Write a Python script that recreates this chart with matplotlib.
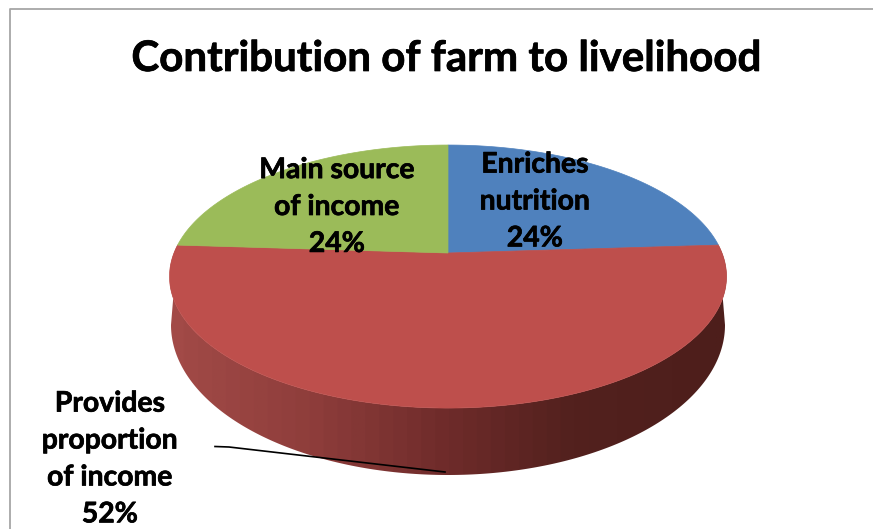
import numpy as np
import matplotlib.pyplot as plt
import matplotlib.patheffects as pe
from matplotlib.colors import LinearSegmentedColormap
from matplotlib.patches import Polygon

title = "Contribution of farm to livelihood"
categories = ["Enriches\nnutrition", "Provides\nproportion\nof income", "Main source\nof income"]
values = [24, 52, 24]
colors = ["#4F81BD", "#BE4F4C", "#9BBB59"]
label_x = [535, 110, 337]
label_y = [201.5, 459, 207]

# disk projection, pixel units
apex_x, apex_y = 448, 253
scale_x, scale_y = 274, 127.3
tilt = 0.179
# lower rim of the side wall
rim_x, rim_y = 448, 325
rim_rx, rim_ry = 277, 150


def disk(angle):
    # angle in degrees, clockwise from 12 o'clock
    a = np.radians(angle)
    w = 1 + tilt * np.cos(a)
    return apex_x + scale_x * np.sin(a) / w, apex_y - scale_y * np.cos(a) / w


def wedge_points(start, end):
    x, y = disk(np.linspace(start, end, 200))
    return np.column_stack([np.r_[apex_x, x], np.r_[apex_y, y]])


fig = plt.figure(figsize=(8.73, 5.29), dpi=100)
ax = fig.add_axes([0, 0, 1, 1])

# chart frame, open on the right and bottom
ax.plot([10, 10, 873], [529, 8.5, 8.5], color="#A6A6A6", lw=1.3, zorder=1)

edges = np.r_[0, np.cumsum(values)] * 360 / np.sum(values)

# side wall of the large slice
t = np.linspace(0, np.pi, 200)
arc_x, arc_y = disk(np.linspace(edges[1], edges[2], 200))
low_x = rim_x + rim_rx * np.cos(t)
low_y = rim_y + rim_ry * np.sin(t)
wall = Polygon(np.column_stack([np.r_[arc_x, low_x[::-1]], np.r_[arc_y, low_y[::-1]]]),
               closed=True, fc="none", ec="none", transform=ax.transData)
ax.add_patch(wall)
shade = LinearSegmentedColormap.from_list("wall", [(0, "#A24A47"), (0.25, "#8E3D3B"), (0.5, "#6E2B2A"),
                                                   (0.72, "#53211E"), (1, "#4D1E1B")], N=40)
img = ax.imshow(np.linspace(0, 1, 400).reshape(1, -1), cmap=shade, aspect="auto",
                extent=[170, 728, 480, 240], zorder=2)
img.set_clip_path(wall)

# top face
for i in range(len(values)):
    ax.add_patch(Polygon(wedge_points(edges[i], edges[i + 1]), closed=True, fc=colors[i], ec=colors[i],
                         lw=0.5, zorder=3))

# leader for the outside label
ax.plot([215, 229, 445], [446.5, 447, 472], color="black", lw=1.2, zorder=4)

heavy = [pe.withStroke(linewidth=0.5, foreground="black")]
ax.text(447, 59, title, ha="center", va="center", fontsize=30.3, fontweight="bold",
        family="Lato", color="black", zorder=5, path_effects=heavy)
for i in range(len(values)):
    ax.text(label_x[i], label_y[i], "%s\n%d%%" % (categories[i], values[i]), ha="center", va="center",
            fontsize=20.4, fontweight="bold", family="Lato", color="black", linespacing=1.52, zorder=5,
            path_effects=heavy)

ax.set_xlim(0, 873)
ax.set_ylim(529, 0)
ax.axis("off")
fig.savefig("out.png", dpi=100, facecolor="white")
